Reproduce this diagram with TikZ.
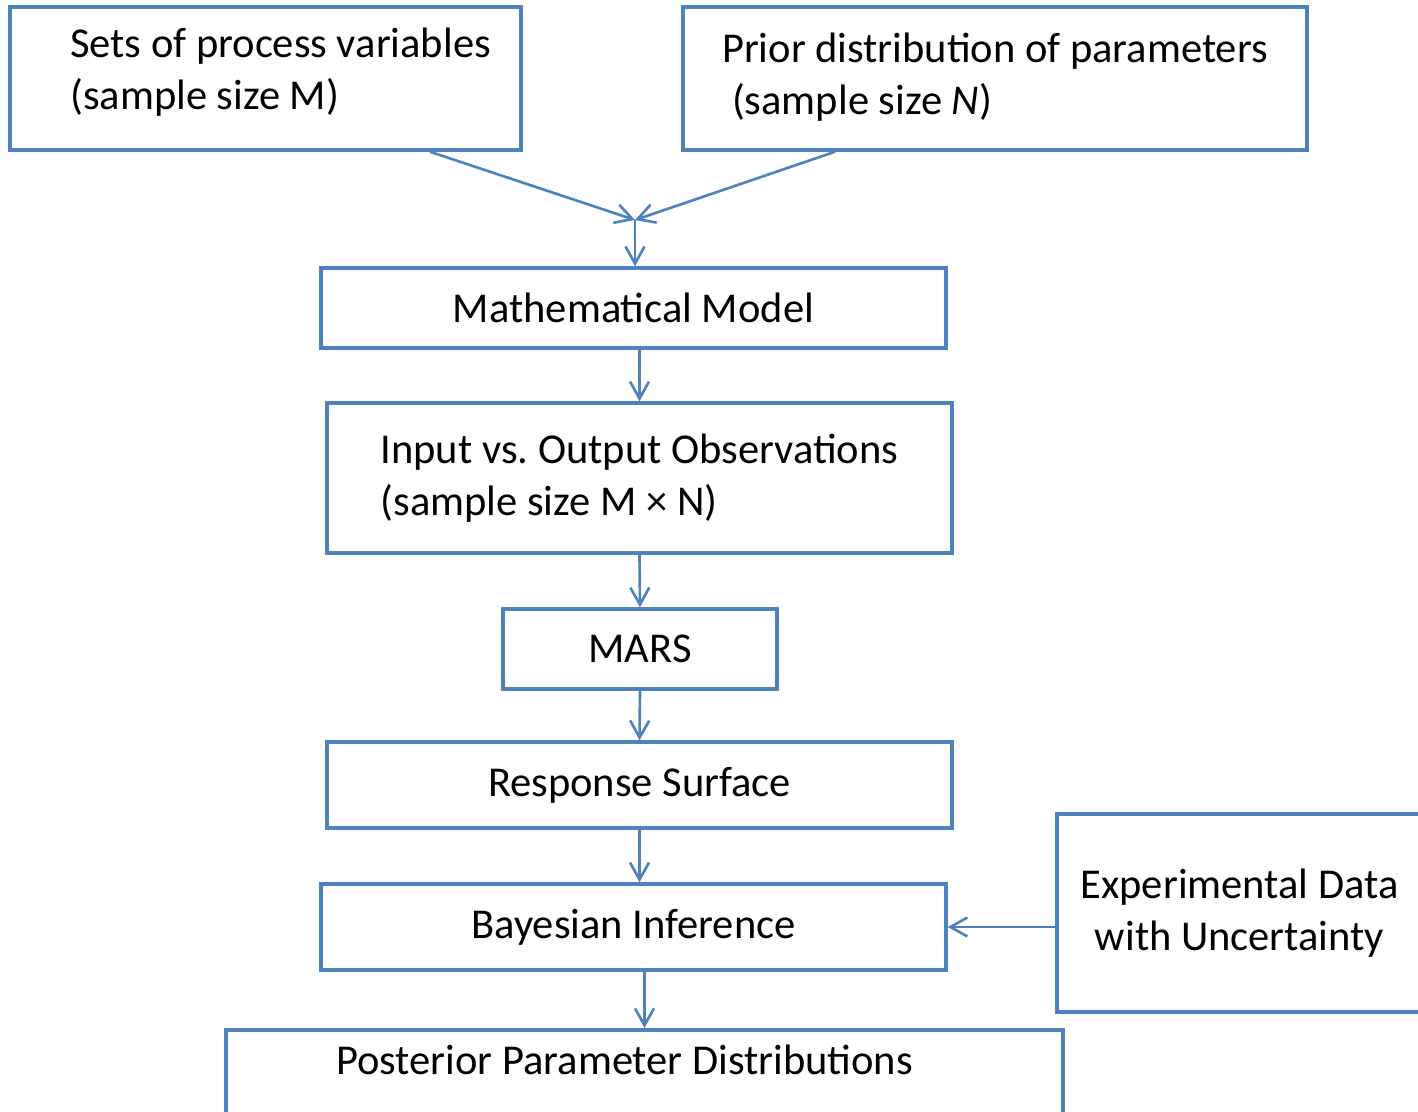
\documentclass[tikz,border=0pt]{standalone}
\usepackage{fontspec}
\setmainfont{Carlito}
\usetikzlibrary{arrows.meta}
\definecolor{boxblue}{HTML}{4F81BD}
\tikzset{
  box/.style={draw=boxblue, line width=2pt, rectangle, inner sep=0pt,
    font=\fontsize{24.2}{29.5}\selectfont},
  flow/.style={draw=boxblue, line width=1.5pt,
    -{Straight Barb[length=0.34cm,width=0.38cm]}}
}
\begin{document}
\begin{tikzpicture}[x=0.02cm,y=-0.02cm]
            \useasboundingbox (0,0) rectangle (1418,1112);
            \clip (0,0) rectangle (1418,1112);
            \node[box, minimum width=10.22cm, minimum height=2.86cm, align=left, text depth=0.4cm] (sets) at (265.5,78.5) {\hspace*{0.6cm}Sets of process variables\\\hspace*{0.6cm}(sample size M)};
            \node[box, minimum width=12.48cm, minimum height=2.86cm, align=left, text depth=0.2cm] (prior) at (995,78.5) {Prior distribution of parameters\\\hspace*{0.2cm}(sample size \textit{N})};
            \coordinate (merge) at (635,220);
            \node[box, minimum width=12.5cm, minimum height=1.6cm] (math) at (633.5,308) {Mathematical Model};
            \node[box, minimum width=12.5cm, minimum height=3cm, align=left] (obs) at (639.5,478) {Input vs.\ Output Observations\\(sample size M × N)};
            \node[box, minimum width=5.48cm, minimum height=1.6cm] (mars) at (640,649) {MARS};
            \node[box, minimum width=12.5cm, minimum height=1.72cm] (rs) at (639.5,785) {Response Surface};
            \node[box, minimum width=12.5cm, minimum height=1.72cm] (bi) at (633.5,927) {Bayesian Inference};
            \node[box, minimum width=7.3cm, minimum height=3.96cm, align=center] (exp) at (1239.5,913) {Experimental Data\\with Uncertainty};
            \node[box, minimum width=16.74cm, anchor=north, text height=0.9cm, text depth=2.1cm] (post) at (644.5,1028) {Posterior Parameter Distributions\hspace*{0.8cm}};
            \draw[flow] ([xshift=3.29cm]sets.south) -- (merge);
            \draw[flow] ([xshift=-3.2cm]prior.south) -- (merge);
            \draw[flow] (merge) -- (merge |- math.north);
            \draw[flow] (obs.north |- math.south) -- (obs.north);
            \draw[flow] (obs.south) -- (mars.north);
            \draw[flow] (mars.south) -- (rs.north);
            \draw[flow] (rs.south) -- (rs.south |- bi.north);
            \draw[flow] (exp.west |- bi.east) -- (bi.east);
            \draw[flow] (bi.south -| post.north) -- (post.north);
        \end{tikzpicture}
\end{document}
